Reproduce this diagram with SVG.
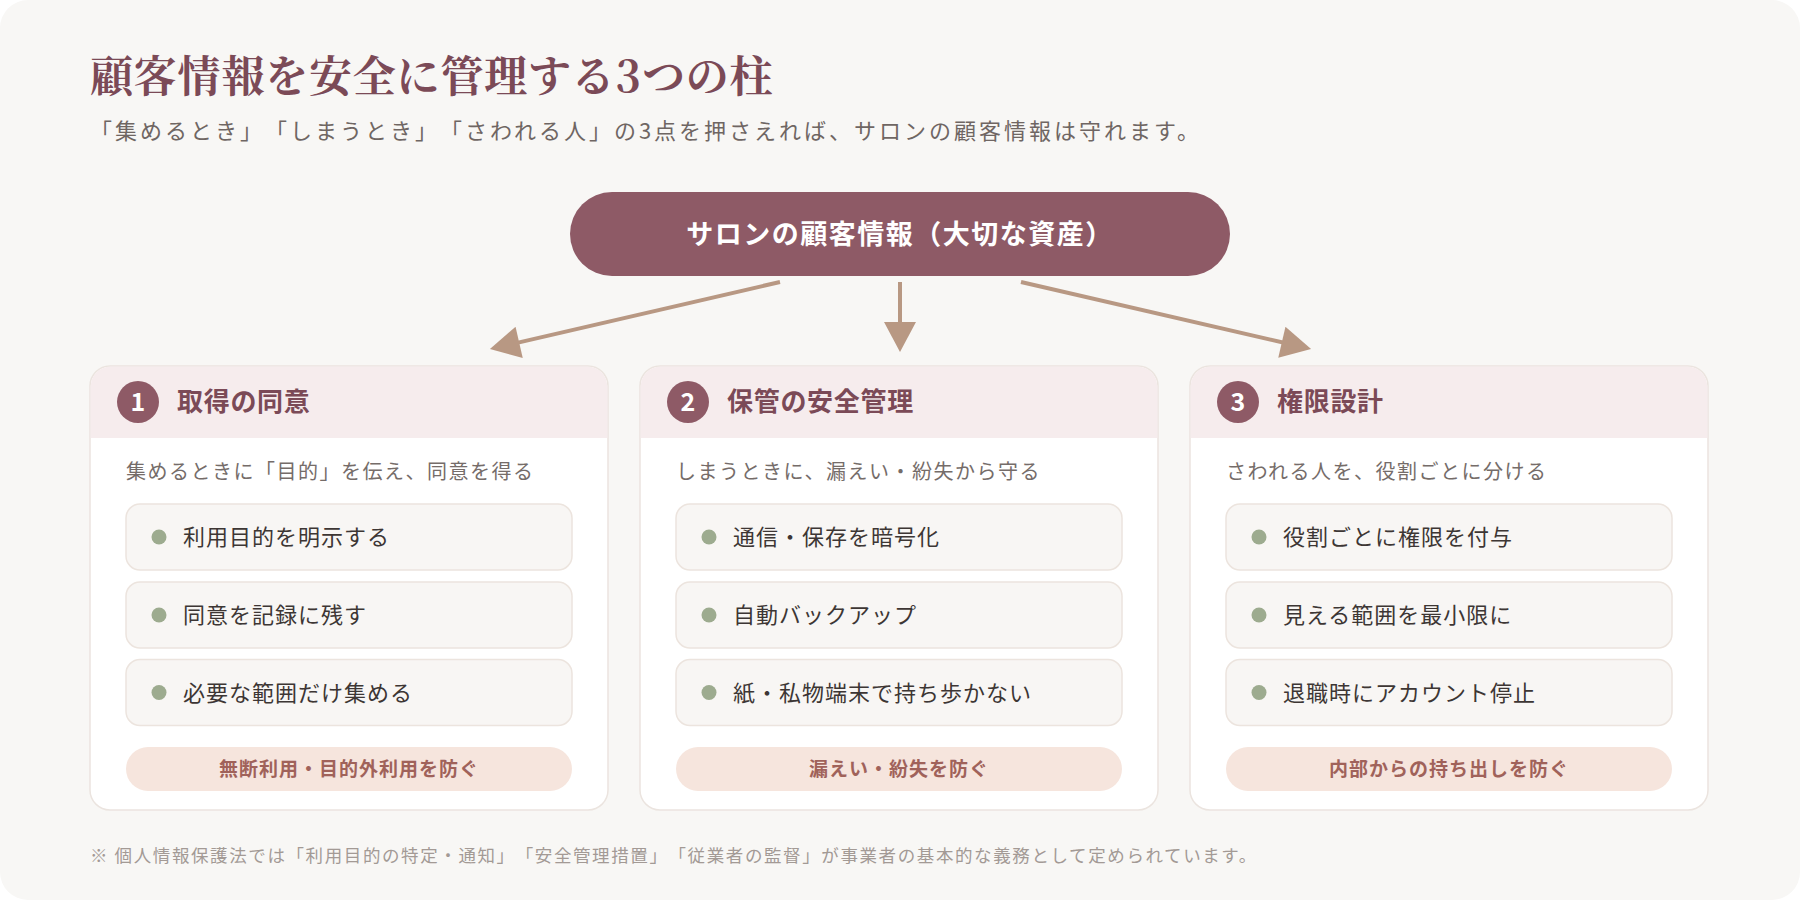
<svg xmlns="http://www.w3.org/2000/svg" width="1800" height="900" viewBox="0 0 1800 900">
<defs>
<style>
.title{font-family:"Noto Serif CJK JP","Liberation Serif","Noto Sans CJK JP",serif;font-size:43px;font-weight:700;fill:#7b4a57;letter-spacing:0.8px}
.sub{font-family:"Noto Sans CJK JP",sans-serif;font-size:22px;fill:#6f6663;letter-spacing:3px;text-spacing-trim:space-all}
.hub{font-family:"Noto Sans CJK JP",sans-serif;font-size:27px;font-weight:700;fill:#ffffff;letter-spacing:1.5px;text-spacing-trim:space-all}
.card{fill:#ffffff;stroke:#ebe4df;stroke-width:1.5}
.hdr{fill:#f6eced}
.badge{fill:#8e5a66}
.num{font-family:"Noto Sans CJK JP",sans-serif;font-size:25px;font-weight:700;fill:#ffffff}
.ctitle{font-family:"Noto Sans CJK JP",sans-serif;font-size:26px;font-weight:700;fill:#7b4a57;letter-spacing:0.7px}
.desc{font-family:"Noto Sans CJK JP",sans-serif;font-size:20px;fill:#756c69;letter-spacing:1.5px}
.item{fill:#f8f6f4;stroke:#ece4de;stroke-width:1.5}
.dot{fill:#9dab8f}
.itxt{font-family:"Noto Sans CJK JP",sans-serif;font-size:22px;fill:#3d3634;letter-spacing:1px}
.pill{fill:#f6e5dd}
.ptxt{font-family:"Noto Sans CJK JP",sans-serif;font-size:19px;font-weight:700;fill:#a0625a;letter-spacing:1px}
.note{font-family:"Noto Sans CJK JP",sans-serif;font-size:17.5px;fill:#a39a95;letter-spacing:1.6px;text-spacing-trim:space-all}
.conn{stroke:#b89883;stroke-width:4;fill:none}
</style>
<marker id="ah" markerUnits="userSpaceOnUse" markerWidth="32" markerHeight="32" viewBox="0 0 30 32" refX="10" refY="16" orient="auto">
<path d="M0,0 L30,16 L0,32 Z" fill="#b89883"/>
</marker>
</defs>
<rect x="0" y="0" width="1800" height="900" fill="#ffffff"/>
<rect x="0" y="0" width="1800" height="900" rx="28" fill="#f8f7f5"/>
<g id="header">
<text class="title" x="90" y="92">顧客情報を安全に管理する3つの柱</text>
<text class="sub" x="90" y="139">「集めるとき」「しまうとき」「さわれる人」の3点を押さえれば、サロンの顧客情報は守れます。</text>
</g>
<g id="hub">
<rect x="570" y="192" width="660" height="84" rx="42" fill="#8e5a66"/>
<text class="hub" x="900" y="243.5" text-anchor="middle">サロンの顧客情報（大切な資産）</text>
</g>
<g id="connectors">
<line class="conn" x1="780" y1="282" x2="509.4" y2="344.6" marker-end="url(#ah)"/>
<line class="conn" x1="900" y1="282" x2="900" y2="332" marker-end="url(#ah)"/>
<line class="conn" x1="1021" y1="282" x2="1291.6" y2="344.5" marker-end="url(#ah)"/>
</g>
<g id="card1">
<rect class="card" x="90" y="366" width="518" height="444" rx="20"/>
<path class="hdr" d="M90.75,438 V386 A19.25,19.25 0 0 1 110,366.75 H588 A19.25,19.25 0 0 1 607.25,386 V438 Z"/>
<circle class="badge" cx="138" cy="402" r="21"/>
<text class="num" x="138" y="411" text-anchor="middle">1</text>
<text class="ctitle" x="177" y="411">取得の同意</text>
<text class="desc" x="126" y="479">集めるときに「目的」を伝え、同意を得る</text>
<rect class="item" x="126" y="504" width="446" height="66" rx="14"/>
<circle class="dot" cx="159" cy="537" r="7.5"/>
<text class="itxt" x="183" y="545">利用目的を明示する</text>
<rect class="item" x="126" y="582" width="446" height="66" rx="14"/>
<circle class="dot" cx="159" cy="615" r="7.5"/>
<text class="itxt" x="183" y="623">同意を記録に残す</text>
<rect class="item" x="126" y="659.5" width="446" height="66" rx="14"/>
<circle class="dot" cx="159" cy="692.5" r="7.5"/>
<text class="itxt" x="183" y="700.5">必要な範囲だけ集める</text>
<rect class="pill" x="126" y="747" width="446" height="44" rx="22"/>
<text class="ptxt" x="349" y="776" text-anchor="middle">無断利用・目的外利用を防ぐ</text>
</g>
<g id="card2">
<rect class="card" x="640" y="366" width="518" height="444" rx="20"/>
<path class="hdr" d="M640.75,438 V386 A19.25,19.25 0 0 1 660,366.75 H1138 A19.25,19.25 0 0 1 1157.25,386 V438 Z"/>
<circle class="badge" cx="688" cy="402" r="21"/>
<text class="num" x="688" y="411" text-anchor="middle">2</text>
<text class="ctitle" x="727" y="411">保管の安全管理</text>
<text class="desc" x="676" y="479">しまうときに、漏えい・紛失から守る</text>
<rect class="item" x="676" y="504" width="446" height="66" rx="14"/>
<circle class="dot" cx="709" cy="537" r="7.5"/>
<text class="itxt" x="733" y="545">通信・保存を暗号化</text>
<rect class="item" x="676" y="582" width="446" height="66" rx="14"/>
<circle class="dot" cx="709" cy="615" r="7.5"/>
<text class="itxt" x="733" y="623">自動バックアップ</text>
<rect class="item" x="676" y="659.5" width="446" height="66" rx="14"/>
<circle class="dot" cx="709" cy="692.5" r="7.5"/>
<text class="itxt" x="733" y="700.5">紙・私物端末で持ち歩かない</text>
<rect class="pill" x="676" y="747" width="446" height="44" rx="22"/>
<text class="ptxt" x="899" y="776" text-anchor="middle">漏えい・紛失を防ぐ</text>
</g>
<g id="card3">
<rect class="card" x="1190" y="366" width="518" height="444" rx="20"/>
<path class="hdr" d="M1190.75,438 V386 A19.25,19.25 0 0 1 1210,366.75 H1688 A19.25,19.25 0 0 1 1707.25,386 V438 Z"/>
<circle class="badge" cx="1238" cy="402" r="21"/>
<text class="num" x="1238" y="411" text-anchor="middle">3</text>
<text class="ctitle" x="1277" y="411">権限設計</text>
<text class="desc" x="1226" y="479">さわれる人を、役割ごとに分ける</text>
<rect class="item" x="1226" y="504" width="446" height="66" rx="14"/>
<circle class="dot" cx="1259" cy="537" r="7.5"/>
<text class="itxt" x="1283" y="545">役割ごとに権限を付与</text>
<rect class="item" x="1226" y="582" width="446" height="66" rx="14"/>
<circle class="dot" cx="1259" cy="615" r="7.5"/>
<text class="itxt" x="1283" y="623">見える範囲を最小限に</text>
<rect class="item" x="1226" y="659.5" width="446" height="66" rx="14"/>
<circle class="dot" cx="1259" cy="692.5" r="7.5"/>
<text class="itxt" x="1283" y="700.5">退職時にアカウント停止</text>
<rect class="pill" x="1226" y="747" width="446" height="44" rx="22"/>
<text class="ptxt" x="1449" y="776" text-anchor="middle">内部からの持ち出しを防ぐ</text>
</g>
<g id="footnote">
<text class="note" x="90" y="862">※ 個人情報保護法では「利用目的の特定・通知」「安全管理措置」「従業者の監督」が事業者の基本的な義務として定められています。</text>
</g>
</svg>
